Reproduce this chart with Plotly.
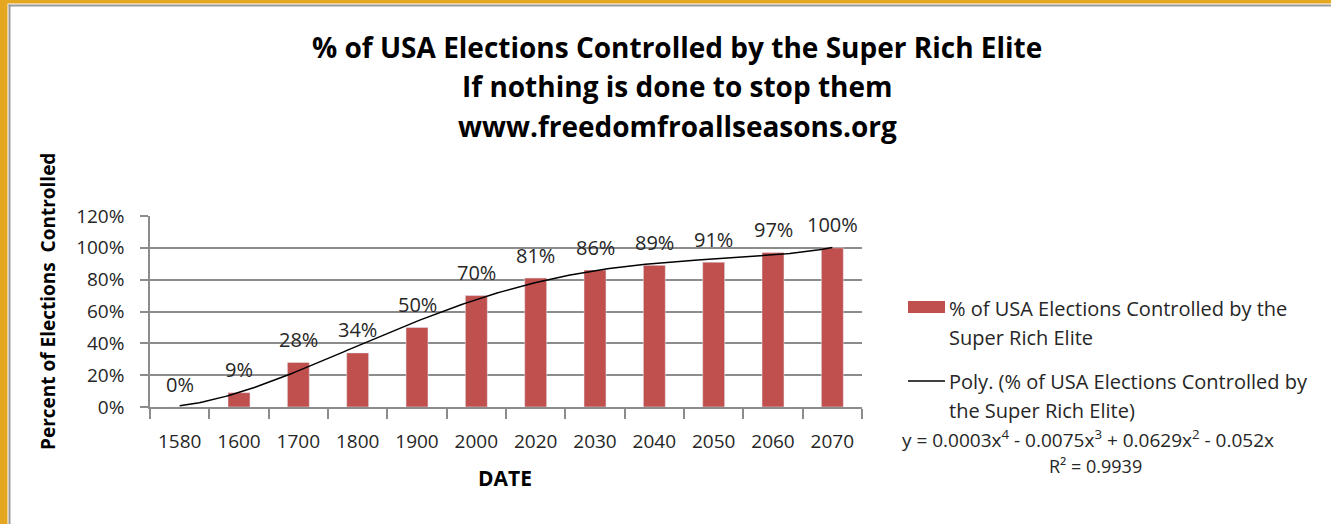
import numpy as np
import plotly.graph_objects as go

# chart data
years = ["1580", "1600", "1700", "1800", "1900", "2000", "2020", "2030", "2040", "2050", "2060", "2070"]
pct_controlled = [0, 9, 28, 34, 50, 70, 81, 86, 89, 91, 97, 100]
y_ticks = [0, 0.2, 0.4, 0.6, 0.8, 1.0, 1.2]

title_lines = [
    "% of USA Elections Controlled by the Super Rich Elite",
    "If nothing is done to stop them",
    "www.freedomfroallseasons.org",
]
bar_name = ["% of USA Elections Controlled by the", "Super Rich Elite"]
trend_name = ["Poly. (% of USA Elections Controlled by", "the Super Rich Elite)"]
equation = "y = 0.0003x<sup>4</sup> - 0.0075x<sup>3</sup> + 0.0629x<sup>2</sup> - 0.052x"
r_squared = "R² = 0.9939"

W, H = 1331, 524
L, R, T, B = 150, 862, 216, 407   # plot area in pixels

def px_x(x):
    return (x - L) / (R - L)

def px_y(y):
    return (B - y) / (B - T)

FONT = "Open Sans"
BAR_RED = "#C0504D"
GRID = "#8C8C8C"
TXT = "#262626"

# excel-style category slots 1..n on a linear axis
pos = np.arange(1, len(years) + 1)

# 4th order polynomial trendline, same as excel's "Poly." trendline
coefs = np.polyfit(pos, np.array(pct_controlled) / 100, 4)
trend_x = np.linspace(1, len(years), 200)
trend_y = np.polyval(coefs, trend_x)

fig = go.Figure()

fig.add_trace(go.Bar(
    x=pos,
    y=[v / 100 for v in pct_controlled],
    marker_color=BAR_RED,
    width=0.37,
    showlegend=False,
))

fig.add_trace(go.Scatter(
    x=trend_x,
    y=trend_y,
    mode="lines",
    line=dict(color="black", width=1.5),
    showlegend=False,
))

# data labels above the bars
for p, v in zip(pos, pct_controlled):
    fig.add_annotation(
        x=p, y=v / 100, xref="x", yref="y",
        text="{}%".format(v), showarrow=False,
        yshift=23, yanchor="middle",
        font=dict(family=FONT, size=20, color=TXT),
    )

# title, three centred lines
for line, ypix in zip(title_lines, [47, 86, 126]):
    fig.add_annotation(
        x=px_x(677), y=px_y(ypix), xref="paper", yref="paper",
        text="<b>{}</b>".format(line), showarrow=False,
        xanchor="center", yanchor="middle",
        font=dict(family=FONT, size=28, color="black"),
    )

# axis titles
fig.add_annotation(
    x=px_x(48), y=px_y(302), xref="paper", yref="paper",
    text="<b>Percent of Elections  Controlled</b>", textangle=-90,
    showarrow=False, xanchor="center", yanchor="middle",
    font=dict(family=FONT, size=19, color="black"),
)
fig.add_annotation(
    x=px_x(505), y=px_y(478), xref="paper", yref="paper",
    text="<b>DATE</b>", showarrow=False,
    xanchor="center", yanchor="middle",
    font=dict(family=FONT, size=21, color="black"),
)

# hand drawn legend
shapes = [
    dict(type="rect", xref="paper", yref="paper",
         x0=px_x(908), x1=px_x(945), y0=px_y(313), y1=px_y(301),
         fillcolor=BAR_RED, line_width=0),
    dict(type="line", xref="paper", yref="paper",
         x0=px_x(908), x1=px_x(945), y0=px_y(381), y1=px_y(381),
         line=dict(color="black", width=1.5)),
]
for lines, ypix in [(bar_name, 308), (trend_name, 381)]:
    for i, txt in enumerate(lines):
        fig.add_annotation(
            x=px_x(947), y=px_y(ypix + 29 * i), xref="paper", yref="paper",
            text=txt, showarrow=False,
            xanchor="left", yanchor="middle",
            font=dict(family=FONT, size=20, color=TXT),
        )
fig.add_annotation(
    x=px_x(900), y=px_y(439), xref="paper", yref="paper",
    text=equation, showarrow=False,
    xanchor="left", yanchor="middle",
    font=dict(family=FONT, size=19, color=TXT),
)
fig.add_annotation(
    x=px_x(1095), y=px_y(466), xref="paper", yref="paper",
    text=r_squared, showarrow=False,
    xanchor="center", yanchor="middle",
    font=dict(family=FONT, size=18, color=TXT),
)

# gold frame on top and left edges
shapes += [
    dict(type="rect", xref="paper", yref="paper",
         x0=px_x(0), x1=px_x(W), y0=px_y(0), y1=px_y(3.5),
         fillcolor="#E5A620", line_width=0, layer="above"),
    dict(type="rect", xref="paper", yref="paper",
         x0=px_x(0), x1=px_x(7.5), y0=px_y(0), y1=px_y(H),
         fillcolor="#E5A620", line_width=0, layer="above"),
    dict(type="rect", xref="paper", yref="paper",
         x0=px_x(8.5), x1=px_x(W), y0=px_y(4.5), y1=px_y(6.5),
         fillcolor="#9A9A9A", line_width=0, layer="above"),
    dict(type="rect", xref="paper", yref="paper",
         x0=px_x(8.5), x1=px_x(10.5), y0=px_y(4.5), y1=px_y(H),
         fillcolor="#9A9A9A", line_width=0, layer="above"),
]

fig.update_layout(
    width=W, height=H,
    margin=dict(l=L, r=W - R, t=T, b=H - B, pad=0),
    paper_bgcolor="white",
    plot_bgcolor="white",
    showlegend=False,
    shapes=shapes,
    font=dict(family=FONT, size=19, color=TXT),
    xaxis=dict(
        range=[0.5, len(years) + 0.5],
        tickmode="array", tickvals=pos, ticktext=years,
        ticks="",
        minor=dict(
            tickmode="array", tickvals=np.arange(0.5, len(years) + 1, 1),
            ticks="outside", ticklen=10, tickcolor=GRID, tickwidth=1.5,
            showgrid=False,
        ),
        showline=True, linecolor=GRID, linewidth=1.5,
        showgrid=False, zeroline=False,
        ticklabelstandoff=16,
        tickfont=dict(family=FONT, size=19, color=TXT),
    ),
    yaxis=dict(
        range=[0, 1.2], tickvals=y_ticks, tickformat=".0%",
        ticks="outside", ticklen=8, tickcolor=GRID, tickwidth=1.5,
        showline=True, linecolor=GRID, linewidth=1.5,
        showgrid=True, gridcolor=GRID, gridwidth=1.5,
        zeroline=False,
        ticklabelstandoff=12,
        tickfont=dict(family=FONT, size=19, color=TXT),
    ),
)

# drop the browser's default 8px body margin so the figure sits at the page corner
fig.write_html(
    "out.html",
    config={"displayModeBar": False},
    post_script="document.body.style.margin = '0';",
)
